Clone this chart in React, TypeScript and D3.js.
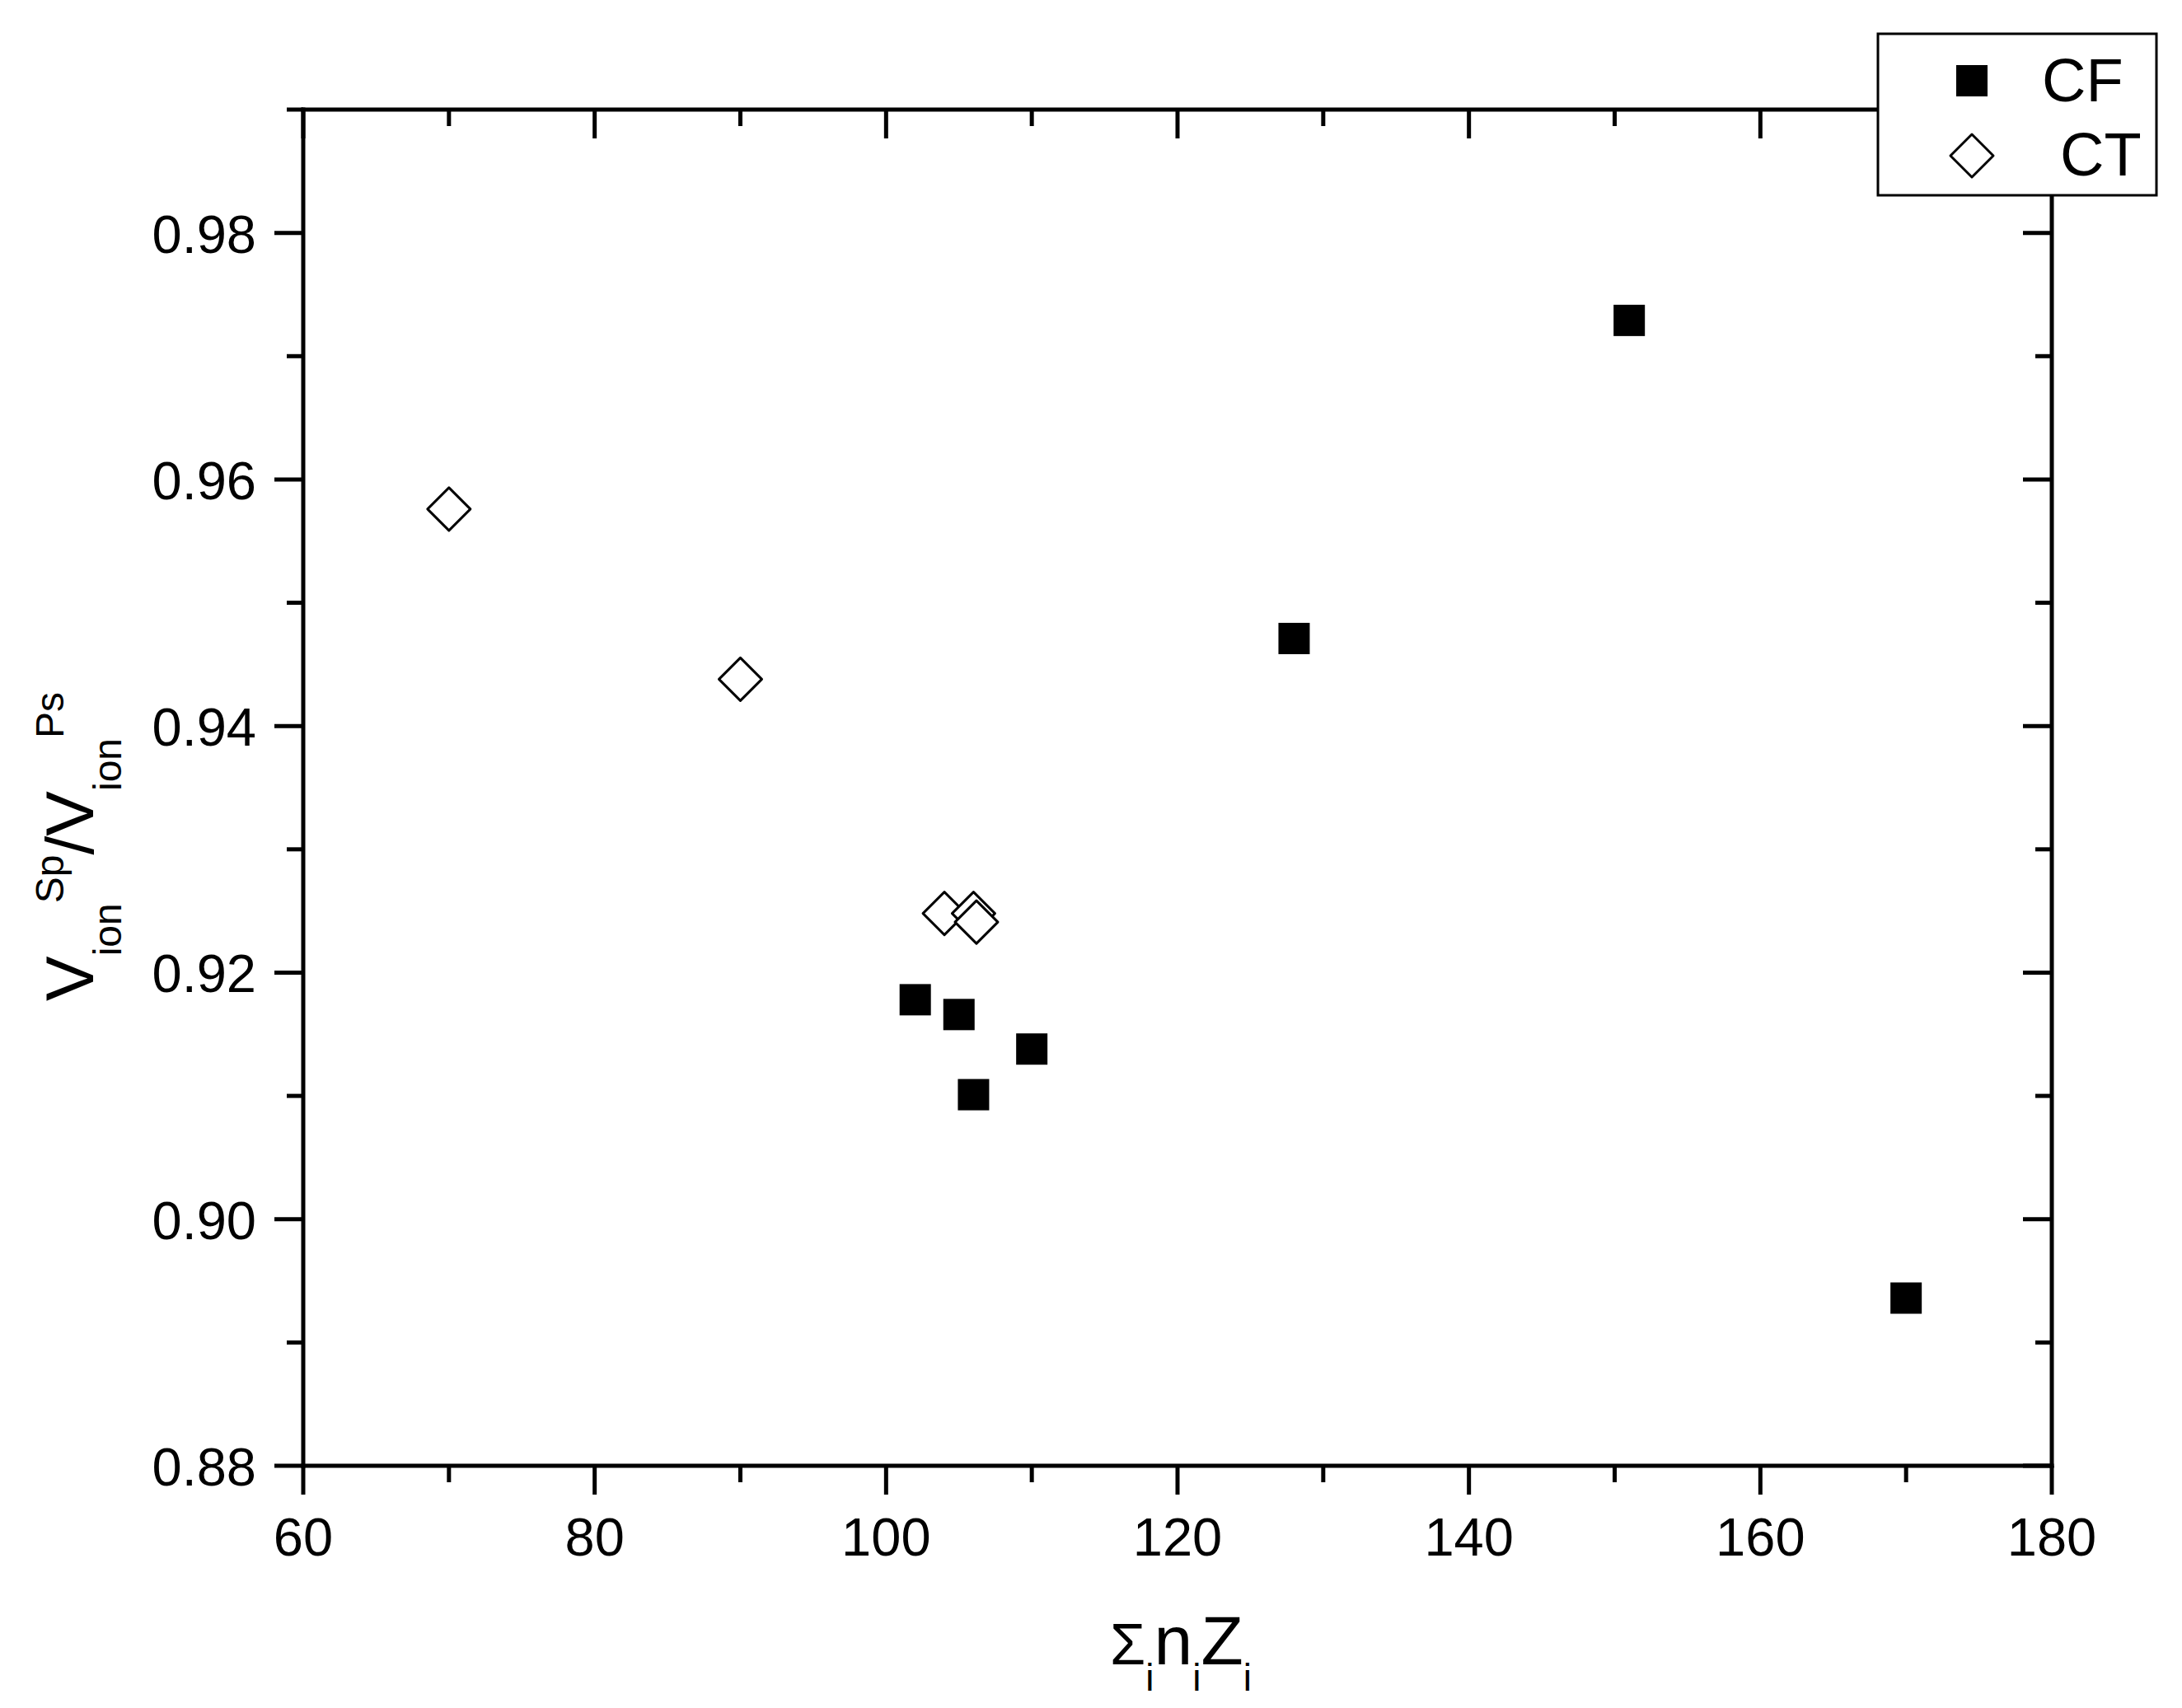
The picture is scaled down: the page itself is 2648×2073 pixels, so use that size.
import React from "react";
import * as d3 from "d3";

const cfX = [102, 105, 110, 106, 128, 151, 170];
const cfY = [0.9178, 0.9166, 0.9138, 0.9101, 0.9471, 0.9729, 0.8936];
const ctX = [70, 90, 104, 106, 106.2];
const ctY = [0.9576, 0.9438, 0.9248, 0.9248, 0.9241];

const xMajor = [60, 80, 100, 120, 140, 160, 180];
const xMinor = [70, 90, 110, 130, 150, 170];
const yMajor = [0.88, 0.9, 0.92, 0.94, 0.96, 0.98];
const yMinor = [0.89, 0.91, 0.93, 0.95, 0.97, 0.99];

const W = 2648;
const H = 2073;
const L = 368, R = 2490, T = 133, B = 1779;
const FONT = "'Liberation Sans', Arial, Helvetica, sans-serif";

export default function App() {
  const x = d3.scaleLinear().domain([60, 180]).range([L, R]);
  const y = d3.scaleLinear().domain([0.88, 0.99]).range([B, T]);
  const sw = 5;
  const maj = 35;
  const min = 20;
  const sq = 38;
  const dh = 26;
  const diamond = (cx: number, cy: number) =>
    `M${cx},${cy - dh}L${cx + dh},${cy}L${cx},${cy + dh}L${cx - dh},${cy}Z`;

  return (
    <svg
      width={W}
      height={H}
      style={{ position: "absolute", left: 0, top: 0, background: "#fff" }}
      fontFamily={FONT}
    >
      <rect x={0} y={0} width={W} height={H} fill="#fff" />
      {/* frame */}
      <g stroke="#000" strokeWidth={sw} fill="none" strokeLinecap="square">
        <line x1={L} y1={T} x2={R} y2={T} />
        <line x1={L} y1={B} x2={R} y2={B} />
        <line x1={L} y1={T} x2={L} y2={B} />
        <line x1={R} y1={T} x2={R} y2={B} />
      </g>
      {/* x ticks */}
      <g stroke="#000" strokeWidth={sw}>
        {xMajor.map((v) => (
          <g key={"xm" + v}>
            <line x1={x(v)} x2={x(v)} y1={B} y2={B + maj} />
            <line x1={x(v)} x2={x(v)} y1={T} y2={T + maj} />
          </g>
        ))}
        {xMinor.map((v) => (
          <g key={"xn" + v}>
            <line x1={x(v)} x2={x(v)} y1={B} y2={B + min} />
            <line x1={x(v)} x2={x(v)} y1={T} y2={T + min} />
          </g>
        ))}
        {yMajor.map((v) => (
          <g key={"ym" + v}>
            <line x1={L - maj} x2={L} y1={y(v)} y2={y(v)} />
            <line x1={R - maj} x2={R} y1={y(v)} y2={y(v)} />
          </g>
        ))}
        {yMinor.map((v) => (
          <g key={"yn" + v}>
            <line x1={L - min} x2={L} y1={y(v)} y2={y(v)} />
            <line x1={R - min} x2={R} y1={y(v)} y2={y(v)} />
          </g>
        ))}
      </g>
      {/* tick labels */}
      <g fontSize={65} fill="#000">
        {xMajor.map((v) => (
          <text key={"xl" + v} x={x(v)} y={1888} textAnchor="middle">
            {d3.format("d")(v)}
          </text>
        ))}
        {yMajor.map((v) => (
          <text key={"yl" + v} x={311} y={y(v) + 24} textAnchor="end">
            {d3.format(".2f")(v)}
          </text>
        ))}
      </g>
      {/* x title */}
      <text x={1347} y={2020} fontSize={84} fill="#000">
        <tspan fontSize={70}>Σ</tspan>
        <tspan fontSize={46} dy={32}>i</tspan>
        <tspan dy={-32}>n</tspan>
        <tspan fontSize={46} dy={32}>i</tspan>
        <tspan dy={-32}>Z</tspan>
        <tspan fontSize={46} dy={32}>i</tspan>
      </text>
      {/* y title */}
      <text transform="translate(113,1215) rotate(-90)" fontSize={82} fill="#000">
        <tspan>V</tspan>
        <tspan fontSize={48} dy={34}>ion</tspan>
        <tspan fontSize={48} dy={-70}>Sp</tspan>
        <tspan dy={36}>/V</tspan>
        <tspan fontSize={48} dy={34}>ion</tspan>
        <tspan fontSize={48} dy={-70}>Ps</tspan>
      </text>
      {/* data */}
      <g>
        {cfX.map((v, i) => (
          <rect
            key={"cf" + i}
            x={x(v) - sq / 2}
            y={y(cfY[i]) - sq / 2}
            width={sq}
            height={sq}
            fill="#000"
          />
        ))}
        {ctX.map((v, i) => (
          <path
            key={"ct" + i}
            d={diamond(x(v), y(ctY[i]))}
            fill="#fff"
            stroke="#000"
            strokeWidth={3}
            strokeLinejoin="round"
          />
        ))}
      </g>
      {/* legend */}
      <g>
        <rect x={2279} y={41} width={338} height={196} fill="#fff" stroke="#000" strokeWidth={3} />
        <rect x={2393 - sq / 2} y={98 - sq / 2} width={sq} height={sq} fill="#000" />
        <path d={diamond(2393, 189)} fill="#fff" stroke="#000" strokeWidth={3} strokeLinejoin="round" />
        <text x={2478} y={123} fontSize={74} fill="#000">CF</text>
        <text x={2500} y={213} fontSize={74} fill="#000">CT</text>
      </g>
    </svg>
  );
}
